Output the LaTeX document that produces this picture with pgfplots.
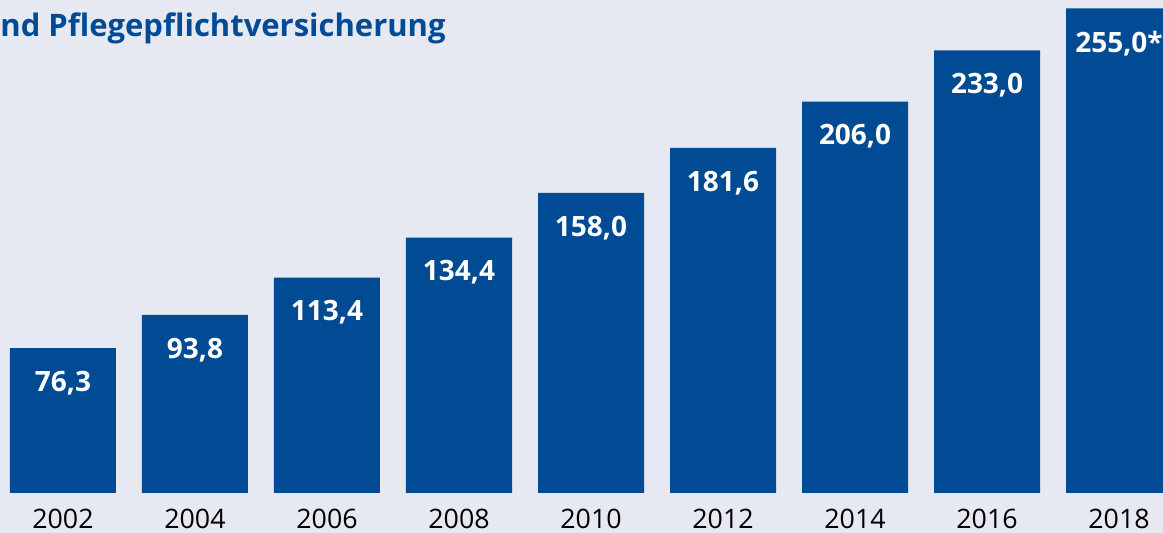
\documentclass[border=0pt]{standalone}
\usepackage{pgfplots}
\pgfplotsset{compat=1.18}
\usepackage{fontspec}
\setmainfont{Open Sans}
\definecolor{barblue}{RGB}{0,75,147}
\definecolor{bgc}{RGB}{230,233,242}
\begin{document}
\begin{tikzpicture}[x=1pt,y=1pt]
\useasboundingbox (0,0) rectangle (581.5,266.5);
\clip (0,0) rectangle (581.5,266.5);
\fill[bgc] (0,0) rectangle (581.5,266.5);
\node[anchor=base west, inner sep=0, text=barblue, font=\bfseries\fontsize{15.5}{16}\selectfont] at (0,248) {nd Pflegepflichtversicherung};
\begin{axis}[at={(0,0)}, anchor=south west, width=581.5pt, height=266.5pt, scale only axis,
  xmin=-0.477, xmax=8.333, ymin=-21.05, ymax=259.47, hide axis, clip=false]
\addplot[ybar, bar width=0.803, bar shift=0pt, fill=barblue, draw=none,
  nodes near coords, point meta=explicit symbolic,
  nodes near coords style={anchor=center, yshift=-17.5pt, text=white, font=\bfseries\fontsize{14}{14}\selectfont}]
table[meta=label] {
x y label
0 76.3 {76,3}
1 93.8 {93,8}
2 113.4 {113,4}
3 134.4 {134,4}
4 158.0 {158,0}
5 181.6 {181,6}
6 206.0 {206,0}
7 233.0 {233,0}
8 255.0 {255,0*}
};
\addplot[draw=none, nodes near coords, point meta=explicit symbolic,
  nodes near coords style={anchor=center, text=black, font=\fontsize{13.4}{14}\selectfont}]
table[meta=label] {
x y label
0 -13.7 2002
1 -13.7 2004
2 -13.7 2006
3 -13.7 2008
4 -13.7 2010
5 -13.7 2012
6 -13.7 2014
7 -13.7 2016
8 -13.7 2018
};
\end{axis}
\end{tikzpicture}
\end{document}
